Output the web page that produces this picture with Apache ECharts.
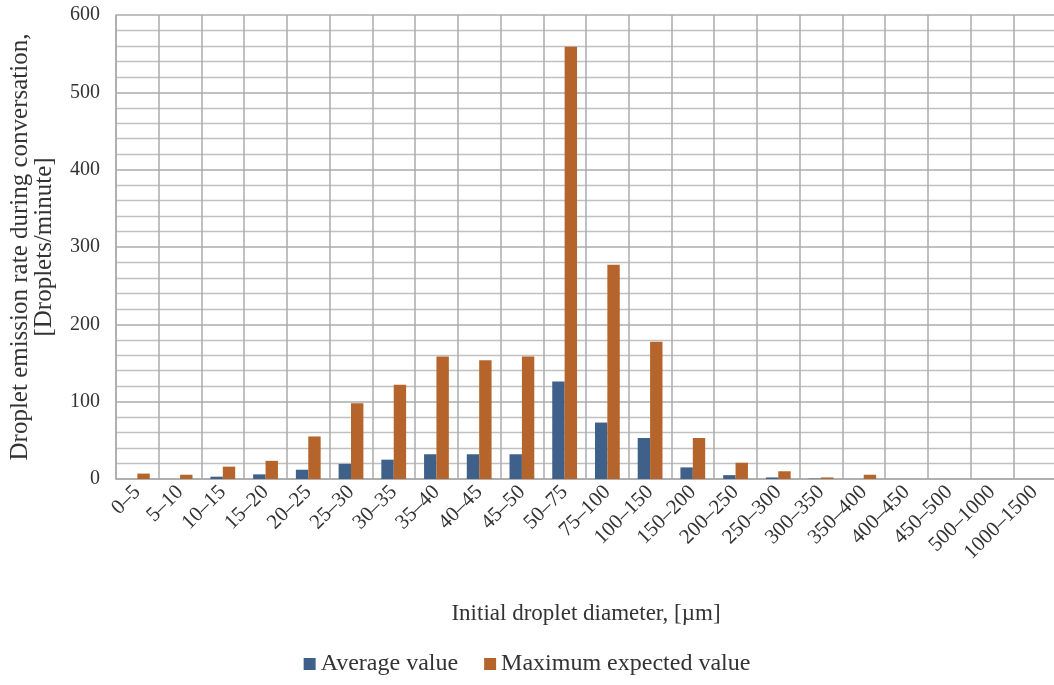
<!DOCTYPE html>
<html>
<head>
<meta charset="utf-8">
<script src="https://cdn.jsdelivr.net/npm/echarts@6/dist/echarts.min.js"></script>
<style>html,body{margin:0;padding:0;background:#fff;}#c{width:1054px;height:685px;}</style>
</head>
<body>
<div id="c"></div>
<script>
const categories = ['0–5','5–10','10–15','15–20','20–25','25–30','30–35','35–40','40–45','45–50','50–75','75–100','100–150','150–200','200–250','250–300','300–350','350–400','400–450','450–500','500–1000','1000–1500'];
const averageValues = [0, 0, 3, 6, 12, 19.5, 25, 32, 32, 32, 126, 73, 53, 15, 5, 2, 0.5, 0, 0, 0, 0, 0];
const maximumValues = [7, 5.5, 16, 23.5, 55, 98, 122, 158.5, 153.5, 158.5, 559, 277, 177.5, 53, 21, 10, 2, 5.5, 0, 0, 0, 0];
const yTicks = [0, 100, 200, 300, 400, 500, 600];

const font = '"Liberation Serif", "Times New Roman", serif';
const chart = echarts.init(document.getElementById('c'));
chart.setOption({
  animation: false,
  backgroundColor: '#ffffff',
  textStyle: { fontFamily: font, color: '#333' },
  grid: { left: 116, right: -2, top: 15, bottom: 206, containLabel: false, outerBoundsMode: 'none' },
  legend: {
    bottom: 4, left: 'center', itemWidth: 12, itemHeight: 12, itemGap: 26,
    icon: 'rect',
    textStyle: { fontFamily: font, fontSize: 24, color: '#333' },
    data: ['Average value', 'Maximum expected value']
  },
  xAxis: {
    type: 'category', data: categories,
    name: 'Initial droplet diameter, [µm]', nameLocation: 'middle', nameGap: 123,
    nameTextStyle: { fontFamily: font, fontSize: 23, color: '#333' },
    axisLine: { show: true, lineStyle: { color: '#a9a9a9', width: 1.5 } },
    axisTick: { show: false },
    axisLabel: { interval: 0, rotate: 45, fontFamily: font, fontSize: 21, color: '#333', margin: 10 },
    splitLine: { show: true, interval: 0, lineStyle: { color: '#ababab', width: 1.5 } }
  },
  yAxis: {
    type: 'value', min: yTicks[0], max: yTicks[yTicks.length - 1], interval: 100,
    name: 'Droplet emission rate during conversation,\n[Droplets/minute]',
    nameLocation: 'middle', nameGap: 60, nameRotate: 90,
    nameTextStyle: { fontFamily: font, fontSize: 25, color: '#333', lineHeight: 24 },
    axisLine: { show: true, lineStyle: { color: '#ababab', width: 1.5 } },
    axisTick: { show: false },
    axisLabel: { fontFamily: font, fontSize: 20, color: '#333', margin: 16 },
    splitLine: { show: true, lineStyle: { color: '#ababab', width: 1.5 } },
    minorTick: { show: false, splitNumber: 5 },
    minorSplitLine: { show: true, lineStyle: { color: '#c0c0c0', width: 1.3 } }
  },
  series: [
    { name: 'Average value', type: 'bar', data: averageValues, barGap: '0%', barCategoryGap: '42%',
      itemStyle: { color: '#3f6089' } },
    { name: 'Maximum expected value', type: 'bar', data: maximumValues, barGap: '0%', barCategoryGap: '42%',
      itemStyle: { color: '#b5642b' } }
  ]
});
</script>
</body>
</html>
